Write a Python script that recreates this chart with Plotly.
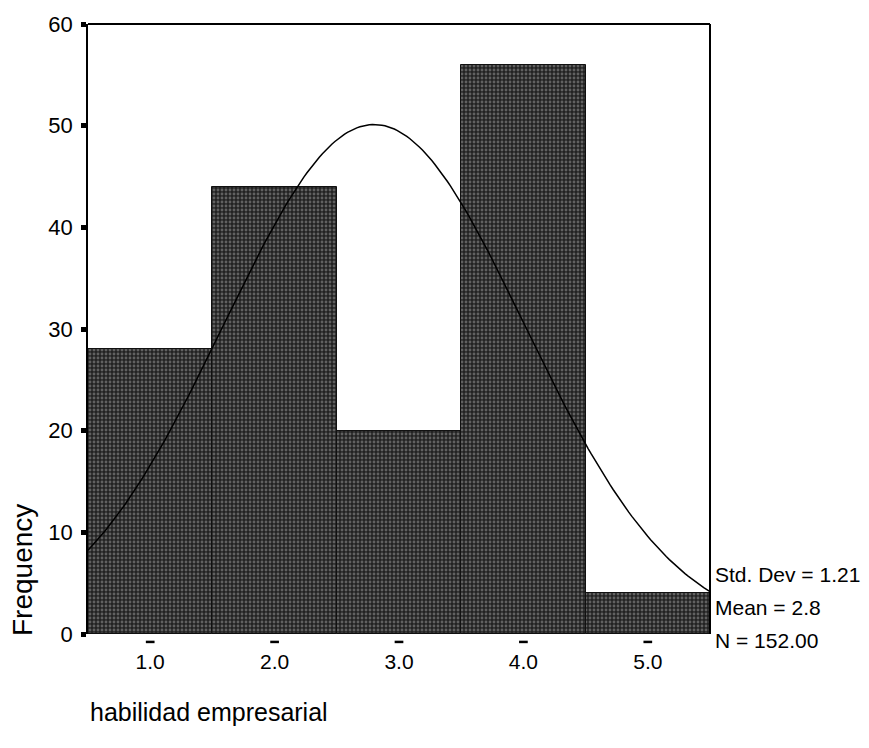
import numpy as np
import plotly.graph_objects as go

# Histogram of "habilidad empresarial" (bin width 1.0)
bin_centers = [1.0, 2.0, 3.0, 4.0, 5.0]
frequencies = [28, 44, 20, 56, 4]
tick_labels = ["1.0", "2.0", "3.0", "4.0", "5.0"]
y_ticks = [0, 10, 20, 30, 40, 50, 60]

# Summary statistics shown beside the plot
std_dev = 1.21
mean = 2.8
n_obs = 152
bin_width = 1.0

FONT = "Liberation Sans, Arial, sans-serif"

fig = go.Figure()

fig.add_trace(go.Bar(
    x=bin_centers,
    y=frequencies,
    width=bin_width,
    marker=dict(
        color="#222222",
        line=dict(color="#111111", width=1),
        pattern=dict(shape=".", fgcolor="#a0a0a0", bgcolor="#222222",
                     size=4, solidity=0.4),
    ),
    hoverinfo="x+y",
    showlegend=False,
))

# Normal curve scaled to the histogram (N * bin width * pdf)
xs = np.linspace(0.5, 5.5, 200)
ys = n_obs * bin_width / (std_dev * np.sqrt(2 * np.pi)) * np.exp(-0.5 * ((xs - mean) / std_dev) ** 2)
fig.add_trace(go.Scatter(
    x=xs, y=ys, mode="lines",
    line=dict(color="black", width=1.5),
    showlegend=False, hoverinfo="skip",
))

fig.update_layout(
    width=869, height=748,
    margin=dict(l=88, r=159, t=16, b=114),
    paper_bgcolor="white", plot_bgcolor="white",
    font=dict(family=FONT, size=20, color="black"),
    bargap=0,
    xaxis=dict(
        range=[0.5, 5.5],
        tickmode="array", tickvals=bin_centers, ticktext=tick_labels,
        ticks="", showgrid=False, zeroline=False,
        showline=False,
        ticklabelstandoff=13,
        tickfont=dict(size=21),
    ),
    yaxis=dict(
        range=[0, 60],
        tickmode="array", tickvals=y_ticks,
        ticks="outside", ticklen=5, tickwidth=5, tickcolor="black",
        showgrid=False, zeroline=False,
        showline=True, linecolor="black", linewidth=1.5,
        mirror=False,
        ticklabelstandoff=4,
        tickfont=dict(size=22),
    ),
)

# Short horizontal tick dashes under the x axis
for xc in bin_centers:
    fig.add_shape(type="line", xref="x", yref="paper",
                  x0=xc - 0.035, x1=xc + 0.035, y0=-0.013, y1=-0.013,
                  line=dict(color="black", width=2.5))

# Top and right frame lines
fig.add_shape(type="line", xref="paper", yref="paper", x0=0, x1=1, y0=1, y1=1,
              line=dict(color="black", width=2))
fig.add_shape(type="line", xref="paper", yref="paper", x0=1, x1=1, y0=0, y1=1,
              line=dict(color="black", width=2))

# Axis titles
fig.add_annotation(text="Frequency", textangle=-90, xref="paper", yref="paper",
                   x=0, y=0, xanchor="center", yanchor="middle",
                   xshift=-66, yshift=64,
                   showarrow=False, font=dict(size=28))
fig.add_annotation(text="habilidad empresarial", xref="paper", yref="paper",
                   x=0.0, y=0, xanchor="left", yanchor="middle", yshift=-78,
                   showarrow=False, font=dict(size=25))

# Statistics block
stats = [f"Std. Dev = {std_dev:.2f}", f"Mean = {mean}", f"N = {n_obs:.2f}"]
stat_shift = [60, 27, -6]
for txt, sh in zip(stats, stat_shift):
    fig.add_annotation(text=txt, xref="paper", yref="paper", x=1, y=0,
                       xanchor="left", yanchor="middle", xshift=3, yshift=sh,
                       showarrow=False, font=dict(size=21))

fig.write_html("out.html")
